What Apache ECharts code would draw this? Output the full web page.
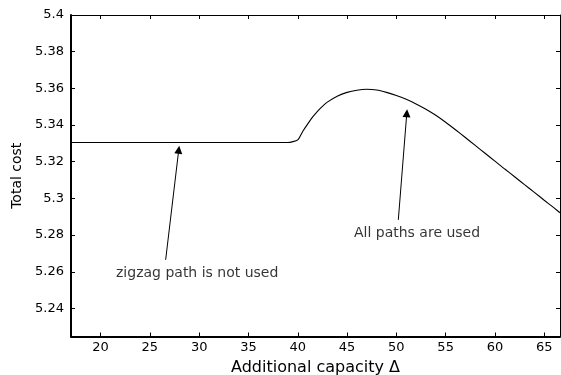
<!DOCTYPE html>
<html>
<head>
<meta charset="utf-8">
<script src="https://cdn.jsdelivr.net/npm/echarts@6/dist/echarts.min.js"></script>
<style>html,body{margin:0;padding:0;background:#fff}#c{width:561px;height:375px}</style>
</head>
<body>
<div id="c"></div>
<script>
// Data
var capacity = [17, 39, 40, 40.5, 41, 41.5, 42, 42.5, 43, 44, 45, 46, 47, 48, 49, 50, 51, 52, 53, 54, 55, 56, 57, 58, 59, 60, 61, 62, 63, 64, 65, 66, 66.6];
var totalCost = [5.3305, 5.3305, 5.3319, 5.3365, 5.3405, 5.3443, 5.3475, 5.3502, 5.3525, 5.3557, 5.3578, 5.3590, 5.3595, 5.3591, 5.3578, 5.3561, 5.3540, 5.3515, 5.3486, 5.3453, 5.3415, 5.3374, 5.3332, 5.3289, 5.3246, 5.3203, 5.3160, 5.3118, 5.3075, 5.3033, 5.2990, 5.2948, 5.2922];
var xTicks = [20, 25, 30, 35, 40, 45, 50, 55, 60, 65];
var yTicks = [5.24, 5.26, 5.28, 5.3, 5.32, 5.34, 5.36, 5.38, 5.4];
var annotationTexts = ['zigzag path is not used', 'All paths are used'];
var annotationTextPos = [[29.8, 5.2594], [52.1, 5.2812]];
var arrowTails = [[26.6, 5.2665], [50.2, 5.2883]];
var arrowHeads = [[27.93, 5.3265], [51.06, 5.3464]];

var FONT = 'DejaVu Sans';
var chart = echarts.init(document.getElementById('c'), null, {renderer: 'canvas'});
var lineData = capacity.map(function (x, i) { return [x, totalCost[i]]; });
var arrowLines = arrowTails.map(function (t, i) {
  return [{coord: t}, {coord: arrowHeads[i]}];
});
var textData = annotationTextPos.map(function (p, i) { return {value: p, name: annotationTexts[i]}; });

var opt = {
  animation: false,
  backgroundColor: '#fff',
  grid: {left: 71, right: 1, top: 15, bottom: 38.5, containLabel: false, outerBoundsMode: 'none'},
  xAxis: [
    {
      type: 'value', min: 17, max: 66.6, position: 'bottom', splitLine: {show: false},
      name: 'Additional capacity \u0394', nameLocation: 'middle', nameGap: 14,
      nameTextStyle: {fontFamily: FONT, fontSize: 16, color: '#000', verticalAlign: 'top'},
      axisLine: {show: true, onZero: false, lineStyle: {color: '#000', width: 2}},
      axisTick: {inside: true, length: 4, customValues: xTicks, lineStyle: {color: '#000', width: 1}},
      axisLabel: {customValues: xTicks, fontFamily: FONT, fontSize: 13, color: '#000', margin: 5}
    },
    {
      type: 'value', min: 17, max: 66.6, position: 'top', splitLine: {show: false},
      axisLine: {show: true, onZero: false, lineStyle: {color: '#000', width: 1}},
      axisTick: {inside: true, length: 4, customValues: xTicks, lineStyle: {color: '#000', width: 1}},
      axisLabel: {show: false}
    }
  ],
  yAxis: [
    {
      type: 'value', min: 5.2247, max: 5.4, position: 'left', splitLine: {show: false},
      name: 'Total cost', nameLocation: 'middle', nameGap: 47, nameRotate: 90,
      nameTextStyle: {fontFamily: FONT, fontSize: 14, color: '#000'},
      axisLine: {show: true, onZero: false, lineStyle: {color: '#000', width: 2}},
      axisTick: {inside: true, length: 4, customValues: yTicks, lineStyle: {color: '#000', width: 1}},
      axisLabel: {customValues: yTicks, fontFamily: FONT, fontSize: 13, color: '#000', margin: 7,
        formatter: function (v) { return String(+(+v).toFixed(2)); }}
    },
    {
      type: 'value', min: 5.2247, max: 5.4, position: 'right', splitLine: {show: false},
      axisLine: {show: true, onZero: false, lineStyle: {color: '#000', width: 1}},
      axisTick: {inside: true, length: 4, customValues: yTicks, lineStyle: {color: '#000', width: 1}},
      axisLabel: {show: false}
    }
  ],
  series: [
    {
      type: 'line', data: lineData, showSymbol: false, symbol: 'none', smooth: 0.2,
      lineStyle: {color: '#000', width: 1.1}, silent: true, clip: true,
      markLine: {
        silent: true, animation: false,
        symbol: ['none', 'triangle'], symbolSize: 8,
        lineStyle: {color: '#000', width: 1, type: 'solid'},
        itemStyle: {color: '#000'},
        label: {show: false},
        data: arrowLines
      }
    },
    {
      type: 'scatter', data: textData, symbolSize: 0, silent: true,
      label: {show: true, position: 'inside', formatter: function (p) { return p.name; },
        fontFamily: FONT, fontSize: 14, color: '#000'}
    }
  ]
};
chart.setOption(opt);
</script>
</body>
</html>
